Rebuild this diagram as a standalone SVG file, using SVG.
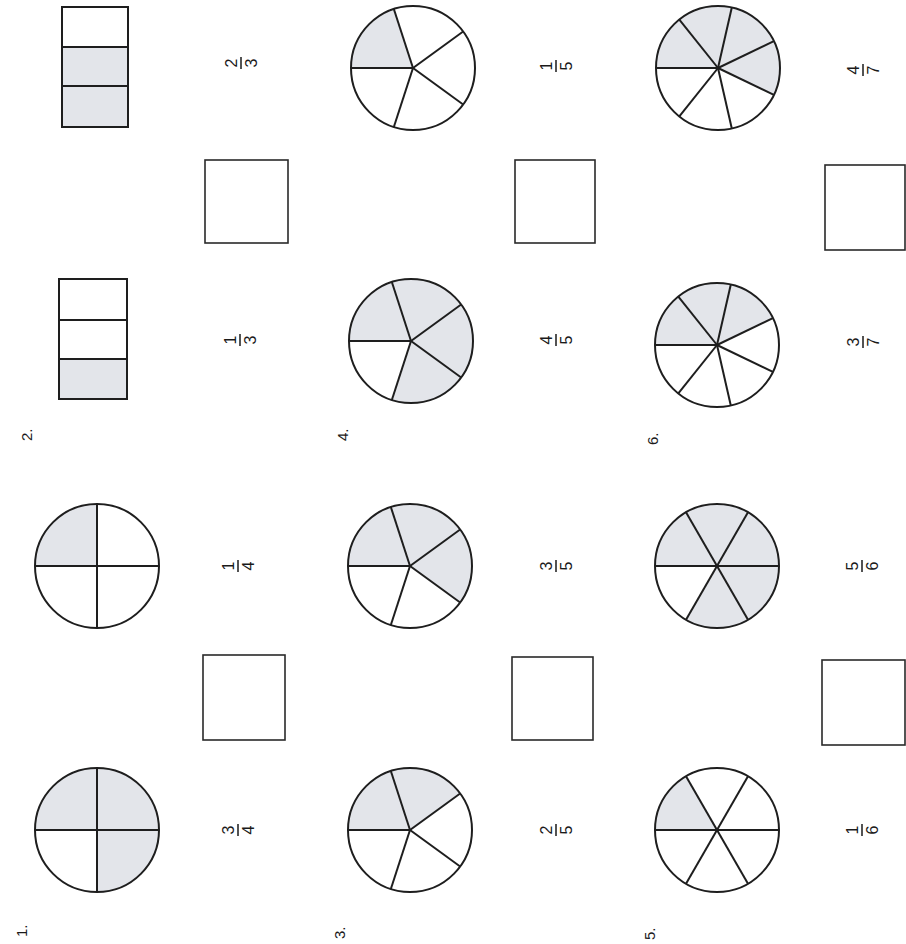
<svg xmlns="http://www.w3.org/2000/svg" width="906" height="944" viewBox="0 0 906 944">
<style>
.bg{fill:#ffffff}
.rim{fill:none;stroke:#1e1e1e;stroke-width:2}
.disk{fill:#ffffff}
.sh{fill:#e3e5ea;stroke:none}
.ln{stroke:#1e1e1e;stroke-width:2;fill:none}
.box{fill:#ffffff;stroke:#2a2a2a;stroke-width:1.6}
.num{font-family:"Liberation Sans",Arial,sans-serif;font-size:16px;fill:#1a1a1a;text-anchor:middle}
.lab{font-family:"Liberation Sans",Arial,sans-serif;font-size:15px;fill:#1a1a1a}
.bar{stroke:#1a1a1a;stroke-width:1.5}
</style>
<defs>
<g id="five">
<line class="ln" x1="0" y1="0" x2="-62" y2="0"/>
<line class="ln" x1="0" y1="0" x2="-19.16" y2="-58.97"/>
<line class="ln" x1="0" y1="0" x2="50.16" y2="-36.44"/>
<line class="ln" x1="0" y1="0" x2="50.16" y2="36.44"/>
<line class="ln" x1="0" y1="0" x2="-19.16" y2="58.97"/>
<circle class="rim" cx="0" cy="0" r="62"/>
</g>
<g id="six">
<line class="ln" x1="-62" y1="0" x2="62" y2="0"/>
<line class="ln" x1="-31" y1="-53.69" x2="31" y2="53.69"/>
<line class="ln" x1="31" y1="-53.69" x2="-31" y2="53.69"/>
<circle class="rim" cx="0" cy="0" r="62"/>
</g>
<g id="seven">
<line class="ln" x1="0" y1="0" x2="-62" y2="0"/>
<line class="ln" x1="0" y1="0" x2="-38.66" y2="-48.47"/>
<line class="ln" x1="0" y1="0" x2="13.8" y2="-60.44"/>
<line class="ln" x1="0" y1="0" x2="55.86" y2="-26.9"/>
<line class="ln" x1="0" y1="0" x2="55.86" y2="26.9"/>
<line class="ln" x1="0" y1="0" x2="13.8" y2="60.44"/>
<line class="ln" x1="0" y1="0" x2="-38.66" y2="48.47"/>
<circle class="rim" cx="0" cy="0" r="62"/>
</g>
<g id="four">
<line class="ln" x1="-62" y1="0" x2="62" y2="0"/>
<line class="ln" x1="0" y1="-62" x2="0" y2="62"/>
<circle class="rim" cx="0" cy="0" r="62"/>
</g>
</defs>
<rect class="bg" x="0" y="0" width="906" height="944"/>

<!-- Problem 1 -->
<g id="problem-1">
<g transform="translate(27,937) rotate(-90)"><text class="lab" x="0" y="0">1.</text></g>
<g id="p1-circle-a" transform="translate(97,830)">
<circle class="disk" r="62"/>
<path class="sh" d="M0,0 L-62,0 A62,62 0 1 1 0,62 Z"/>
<use href="#four"/>
</g>
<rect id="p1-box" class="box" x="203" y="655" width="82" height="85"/>
<g id="p1-circle-b" transform="translate(97,566)">
<circle class="disk" r="62"/>
<path class="sh" d="M0,0 L-62,0 A62,62 0 0 1 0,-62 Z"/>
<use href="#four"/>
</g>
<g id="p1-frac-a" transform="translate(238,830) rotate(-90)">
<text class="num" x="0" y="-4">3</text><line class="bar" x1="-6" y1="0" x2="6" y2="0"/><text class="num" x="0" y="16">4</text>
</g>
<g id="p1-frac-b" transform="translate(238,566) rotate(-90)">
<text class="num" x="0" y="-4">1</text><line class="bar" x1="-6" y1="0" x2="6" y2="0"/><text class="num" x="0" y="16">4</text>
</g>
</g>

<!-- Problem 2 -->
<g id="problem-2">
<g transform="translate(32,441) rotate(-90)"><text class="lab" x="0" y="0">2.</text></g>
<g id="p2-rect-a">
<rect class="disk" x="59" y="279" width="68" height="120"/>
<rect class="sh" x="59" y="359" width="68" height="40"/>
<rect class="ln" x="59" y="279" width="68" height="120"/>
<line class="ln" x1="59" y1="320" x2="127" y2="320"/>
<line class="ln" x1="59" y1="359" x2="127" y2="359"/>
</g>
<rect id="p2-box" class="box" x="205" y="160" width="83" height="83"/>
<g id="p2-rect-b">
<rect class="disk" x="62" y="7" width="66" height="120"/>
<rect class="sh" x="62" y="47" width="66" height="80"/>
<rect class="ln" x="62" y="7" width="66" height="120"/>
<line class="ln" x1="62" y1="47" x2="128" y2="47"/>
<line class="ln" x1="62" y1="86" x2="128" y2="86"/>
</g>
<g id="p2-frac-a" transform="translate(240,340) rotate(-90)">
<text class="num" x="0" y="-4">1</text><line class="bar" x1="-6" y1="0" x2="6" y2="0"/><text class="num" x="0" y="16">3</text>
</g>
<g id="p2-frac-b" transform="translate(241,63) rotate(-90)">
<text class="num" x="0" y="-4">2</text><line class="bar" x1="-6" y1="0" x2="6" y2="0"/><text class="num" x="0" y="16">3</text>
</g>
</g>

<!-- Problem 3 -->
<g id="problem-3">
<g transform="translate(345,939) rotate(-90)"><text class="lab" x="0" y="0">3.</text></g>
<g id="p3-circle-a" transform="translate(410,830)">
<circle class="disk" r="62"/>
<path class="sh" d="M0,0 L-62,0 A62,62 0 0 1 50.16,-36.44 Z"/>
<use href="#five"/>
</g>
<rect id="p3-box" class="box" x="512" y="657" width="81" height="83"/>
<g id="p3-circle-b" transform="translate(410,566)">
<circle class="disk" r="62"/>
<path class="sh" d="M0,0 L-62,0 A62,62 0 1 1 50.16,36.44 Z"/>
<use href="#five"/>
</g>
<g id="p3-frac-a" transform="translate(556,830) rotate(-90)">
<text class="num" x="0" y="-4">2</text><line class="bar" x1="-6" y1="0" x2="6" y2="0"/><text class="num" x="0" y="16">5</text>
</g>
<g id="p3-frac-b" transform="translate(556,566) rotate(-90)">
<text class="num" x="0" y="-4">3</text><line class="bar" x1="-6" y1="0" x2="6" y2="0"/><text class="num" x="0" y="16">5</text>
</g>
</g>

<!-- Problem 4 -->
<g id="problem-4">
<g transform="translate(348,441) rotate(-90)"><text class="lab" x="0" y="0">4.</text></g>
<g id="p4-circle-a" transform="translate(411,341)">
<circle class="disk" r="62"/>
<path class="sh" d="M0,0 L-62,0 A62,62 0 1 1 -19.16,58.97 Z"/>
<use href="#five"/>
</g>
<rect id="p4-box" class="box" x="515" y="160" width="80" height="83"/>
<g id="p4-circle-b" transform="translate(413,68)">
<circle class="disk" r="62"/>
<path class="sh" d="M0,0 L-62,0 A62,62 0 0 1 -19.16,-58.97 Z"/>
<use href="#five"/>
</g>
<g id="p4-frac-a" transform="translate(556,340) rotate(-90)">
<text class="num" x="0" y="-4">4</text><line class="bar" x1="-6" y1="0" x2="6" y2="0"/><text class="num" x="0" y="16">5</text>
</g>
<g id="p4-frac-b" transform="translate(556,66) rotate(-90)">
<text class="num" x="0" y="-4">1</text><line class="bar" x1="-6" y1="0" x2="6" y2="0"/><text class="num" x="0" y="16">5</text>
</g>
</g>

<!-- Problem 5 -->
<g id="problem-5">
<g transform="translate(655,940) rotate(-90)"><text class="lab" x="0" y="0">5.</text></g>
<g id="p5-circle-a" transform="translate(717,830)">
<circle class="disk" r="62"/>
<path class="sh" d="M0,0 L-62,0 A62,62 0 0 1 -31,-53.69 Z"/>
<use href="#six"/>
</g>
<rect id="p5-box" class="box" x="822" y="660" width="83" height="85"/>
<g id="p5-circle-b" transform="translate(717,566)">
<circle class="disk" r="62"/>
<path class="sh" d="M0,0 L-62,0 A62,62 0 1 1 -31,53.69 Z"/>
<use href="#six"/>
</g>
<g id="p5-frac-a" transform="translate(862,830) rotate(-90)">
<text class="num" x="0" y="-4">1</text><line class="bar" x1="-6" y1="0" x2="6" y2="0"/><text class="num" x="0" y="16">6</text>
</g>
<g id="p5-frac-b" transform="translate(862,566) rotate(-90)">
<text class="num" x="0" y="-4">5</text><line class="bar" x1="-6" y1="0" x2="6" y2="0"/><text class="num" x="0" y="16">6</text>
</g>
</g>

<!-- Problem 6 -->
<g id="problem-6">
<g transform="translate(658,445) rotate(-90)"><text class="lab" x="0" y="0">6.</text></g>
<g id="p6-circle-a" transform="translate(717,345)">
<circle class="disk" r="62"/>
<path class="sh" d="M0,0 L-62,0 A62,62 0 0 1 55.86,-26.9 Z"/>
<use href="#seven"/>
</g>
<rect id="p6-box" class="box" x="825" y="165" width="80" height="85"/>
<g id="p6-circle-b" transform="translate(718,68)">
<circle class="disk" r="62"/>
<path class="sh" d="M0,0 L-62,0 A62,62 0 1 1 55.86,26.9 Z"/>
<use href="#seven"/>
</g>
<g id="p6-frac-a" transform="translate(863,342) rotate(-90)">
<text class="num" x="0" y="-4">3</text><line class="bar" x1="-6" y1="0" x2="6" y2="0"/><text class="num" x="0" y="16">7</text>
</g>
<g id="p6-frac-b" transform="translate(863,70) rotate(-90)">
<text class="num" x="0" y="-4">4</text><line class="bar" x1="-6" y1="0" x2="6" y2="0"/><text class="num" x="0" y="16">7</text>
</g>
</g>

<g id="connectors"></g>
</svg>
